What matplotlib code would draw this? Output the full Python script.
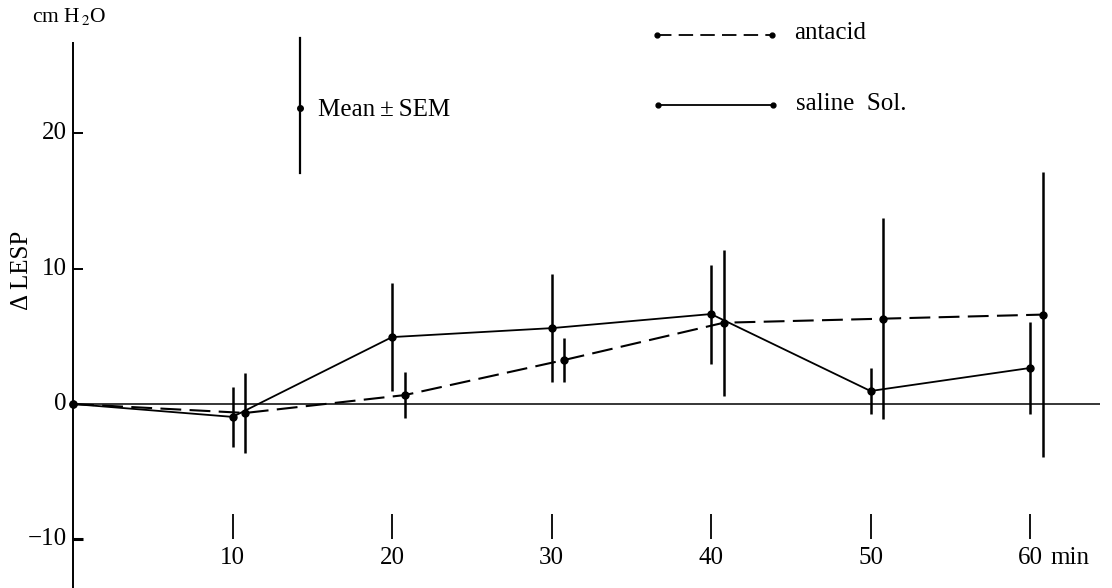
import numpy as np
import matplotlib.pyplot as plt

# time points (min); antacid plotted slightly shifted so bars don't overlap
minutes = [0, 10, 20, 30, 40, 50, 60]
shift = 0.8

saline_mean = [0, -0.95, 4.94, 5.6, 6.64, 0.96, 2.66]
saline_sem = [0, 2.2, 4.0, 4.0, 3.65, 1.7, 3.4]

antacid_mean = [0, -0.66, 0.66, 3.25, 6.0, 6.3, 6.6]
antacid_sem = [0, 2.95, 1.7, 1.65, 5.4, 7.4, 10.5]

yticks = [20, 10, 0, -10]
xticks = [10, 20, 30, 40, 50, 60]

serif = ['Liberation Serif', 'DejaVu Serif']
plt.rcParams['font.family'] = serif
plt.rcParams['mathtext.fontset'] = 'stix'
fs = 18

fig = plt.figure(figsize=(11.12, 5.88), dpi=100)
ax = fig.add_axes([0, 0, 1, 1])
ax.set_xlim(-4.58, 65.14)
ax.set_ylim(-13.58, 29.82)
ax.axis('off')

# hand-drawn style axes
ax.vlines(0, -13.58, 26.7, color='black', lw=1.4)
ax.hlines(0, 0, 64.4, color='black', lw=1.1)
for yt in yticks:
    if yt != 0:
        ax.hlines(yt, 0, 0.6, color='black', lw=2.2 if yt == -10 else 1.4)
    ax.text(-0.38, yt, str(yt).replace('-', '\u2212'), ha='right', va='center', fontsize=fs)

ax.vlines(xticks, -10.0, -8.1, color='black', lw=1.3)
for xt in xticks:
    ax.text(xt, -11.4, str(xt), ha='center', va='center', fontsize=fs)
ax.text(61.3, -11.4, 'min', ha='left', va='center', fontsize=fs)

ax.text(-3.2, 9.9, '\u0394 LESP', rotation=90, ha='center', va='center', fontsize=fs)
ax.text(-2.55, 28.6, r'cm H$_{\,2}$O', ha='left', va='center', fontsize=15.5)

# data
x = np.array(minutes)
ax.plot(x, saline_mean, color='black', lw=1.3, marker='o', ms=5)
ax.errorbar(x[1:], saline_mean[1:], yerr=saline_sem[1:], fmt='none', ecolor='black', elinewidth=1.8)

xa = np.array(minutes, dtype=float)
xa[1:] += shift
ax.plot(xa, antacid_mean, color='black', lw=1.5, ls=(0, (10, 4)), marker='o', ms=5)
ax.errorbar(xa[1:], antacid_mean[1:], yerr=antacid_sem[1:], fmt='none', ecolor='black', elinewidth=1.8)

# key for error bars
ax.plot([0.27, 0.27], [1 - 38 / 588, 1 - 173 / 588], transform=ax.transAxes, color='black', lw=1.6)
ax.plot([0.27], [1 - 108 / 588], transform=ax.transAxes, color='black', marker='o', ms=4)
ax.text(318 / 1112, 1 - 110 / 588, 'Mean\u2009\u00b1\u2009SEM', transform=ax.transAxes, ha='left', va='center', fontsize=fs)

# line legend
ax.plot([657 / 1112, 772 / 1112], [1 - 35 / 588] * 2, transform=ax.transAxes,
        color='black', lw=1.3, ls=(0, (8, 4)), marker='o', ms=3.5)
ax.text(794 / 1112, 1 - 33 / 588, 'antacid', transform=ax.transAxes, ha='left', va='center', fontsize=fs)
ax.plot([658 / 1112, 773 / 1112], [1 - 105 / 588] * 2, transform=ax.transAxes,
        color='black', lw=1.3, marker='o', ms=3.5)
ax.text(796 / 1112, 1 - 104 / 588, 'saline  Sol.', transform=ax.transAxes, ha='left', va='center', fontsize=fs)

fig.savefig('out.png', dpi=100)
